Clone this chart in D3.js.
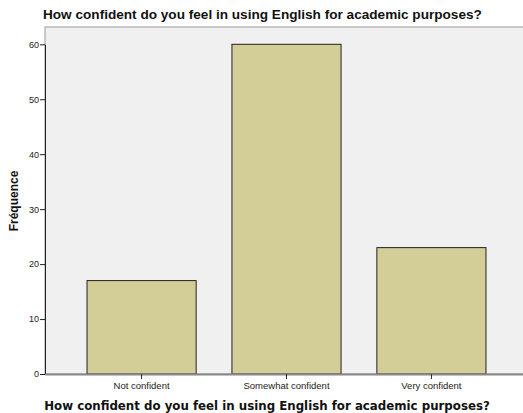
<!DOCTYPE html>
<html>
<head>
<meta charset="utf-8">
<script src="https://cdn.jsdelivr.net/npm/d3@7"></script>
<style>
  body { margin: 0; background: #fff; }
  svg { display: block; font-family: "Liberation Sans", Arial, sans-serif; }
</style>
</head>
<body>
<svg id="chart"></svg>
<script>
  "use strict";

  var categories = ["Not confident", "Somewhat confident", "Very confident"];
  var values = [17, 60, 23];
  var yTicks = [0, 10, 20, 30, 40, 50, 60];
  var title = "How confident do you feel in using English for academic purposes?";
  var yLabel = "Fréquence";

  var W = 523, H = 413;
  var margin = {top: 27, right: -5, bottom: 39, left: 45};

  var svg = d3.select("#chart").attr("width", W).attr("height", H);

  var x = d3.scaleBand()
    .domain(categories)
    .range([margin.left, W - margin.right])
    .paddingInner(0.247)
    .paddingOuter(0.29);

  var y = d3.scaleLinear()
    .domain([0, 60])
    .range([H - margin.bottom, margin.top + 17.3]);

  // fond + cadre
  svg.append("rect")
    .attr("x", margin.left).attr("y", margin.top)
    .attr("width", W - margin.left - margin.right)
    .attr("height", H - margin.bottom - margin.top)
    .attr("fill", "#f0f0f0")
    .attr("stroke", "#9a9a9a");

  // barres
  var data = categories.map(function(c, i) { return {cat: c, value: values[i]}; });
  svg.append("g")
    .selectAll("rect")
    .data(data)
    .enter().append("rect")
    .attr("x", d => x(d.cat))
    .attr("y", d => y(d.value))
    .attr("width", x.bandwidth())
    .attr("height", d => y(0) - y(d.value))
    .attr("fill", "#d3ce97")
    .attr("stroke", "#222")
    .attr("stroke-width", 1);

  // axe y
  var yAxis = svg.append("g")
    .attr("transform", `translate(${margin.left},0)`)
    .call(d3.axisLeft(y).tickValues(yTicks).tickSize(5).tickPadding(1).tickSizeOuter(0));
  yAxis.select(".domain").attr("stroke", "#222");
  yAxis.selectAll(".tick line").attr("stroke", "#222");
  yAxis.selectAll("text").attr("font-size", 9).attr("fill", "#222")
    .attr("font-family", "'Liberation Sans', Arial, sans-serif");

  // axe x
  var xAxis = svg.append("g")
    .attr("transform", `translate(0,${y(0)})`)
    .call(d3.axisBottom(x).tickSize(5).tickPadding(3).tickSizeOuter(0));
  xAxis.select(".domain").attr("stroke", "#888").attr("stroke-width", 2);
  xAxis.selectAll(".tick line").attr("stroke", "#222");
  xAxis.selectAll("text").attr("font-size", 9.5).attr("fill", "#222")
    .attr("font-family", "'Liberation Sans', Arial, sans-serif");

  // titres
  svg.append("text")
    .attr("x", 43).attr("y", 19)
    .attr("font-size", 13.6).attr("font-weight", "bold").attr("fill", "#111")
    .text(title);

  svg.append("text")
    .attr("x", 267).attr("y", 410)
    .attr("text-anchor", "middle")
    .attr("font-family", "'DejaVu Sans', Verdana, sans-serif")
    .attr("font-size", 11.8).attr("font-weight", "bold").attr("fill", "#111")
    .text(title);

  svg.append("text")
    .attr("transform", "translate(18,201) rotate(-90)")
    .attr("text-anchor", "middle")
    .attr("font-size", 12).attr("font-weight", "bold").attr("fill", "#111")
    .text(yLabel);
</script>
</body>
</html>
